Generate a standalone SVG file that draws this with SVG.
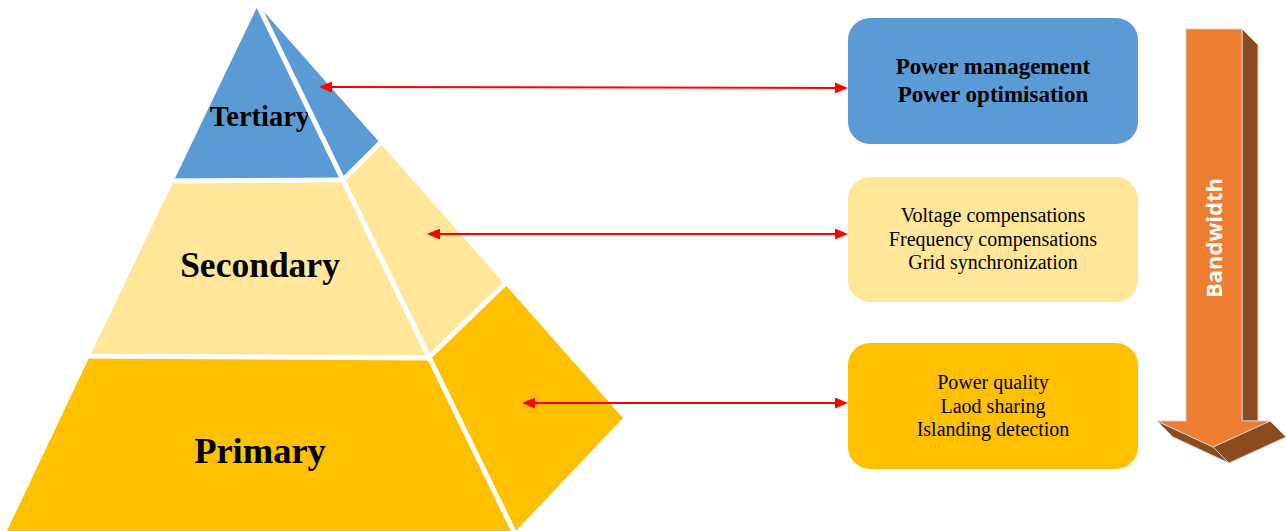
<svg xmlns="http://www.w3.org/2000/svg" width="1286" height="531" viewBox="0 0 1286 531">
  <style>
    .blue { fill: #5B9BD5; }
    .light { fill: #FFE699; }
    .gold { fill: #FFC000; }
    .cut { stroke: #FFFFFF; stroke-width: 5; fill: none; stroke-linecap: butt; }
    .tier { font-family: "Liberation Serif", "Times New Roman", serif; font-weight: bold; fill: #000; text-anchor: middle; }
    .boxb { font-family: "Liberation Serif", "Times New Roman", serif; font-weight: bold; font-size: 23px; fill: #000; text-anchor: middle; }
    .boxr { font-family: "Liberation Serif", "Times New Roman", serif; font-size: 20px; fill: #000; text-anchor: middle; }
    .link { stroke: #FF0000; stroke-width: 2; fill: none; marker-start: url(#head); marker-end: url(#head); }
    .front { fill: #ED7D31; stroke: #D0D0D0; stroke-width: 1; }
    .side { fill: #8B4B1E; stroke: #D0D0D0; stroke-width: 1; }
  </style>
  <defs>
    <marker id="head" viewBox="0 0 13 11" markerWidth="13" markerHeight="11" markerUnits="userSpaceOnUse" refX="5" refY="5.5" orient="auto-start-reverse">
      <path d="M0,0 L13,5.5 L0,11 z" fill="#FF0000"/>
    </marker>
  </defs>
  <rect width="1286" height="531" fill="#FFFFFF"/>

  <!-- Pyramid tiers: front face and right face of each level -->
  <g id="tier-tertiary">
    <polygon class="blue" points="258,5 343.2,180 174.2,180"/>
    <polygon class="blue" points="258,5 380,143 343.2,180"/>
    <text class="tier" x="260" y="126" font-size="28.5">Tertiary</text>
  </g>
  <g id="tier-secondary">
    <polygon class="light" points="174.2,180 343.2,180 429.3,357 89.4,357"/>
    <polygon class="light" points="343.2,180 380,143 504.6,284 429.3,357"/>
    <text class="tier" x="260" y="277" font-size="35.5">Secondary</text>
  </g>
  <g id="tier-primary">
    <polygon class="gold" points="89.4,357 429.3,357 514,533 6,533"/>
    <polygon class="gold" points="429.3,357 504.6,284 623,418 514,533"/>
    <text class="tier" x="260" y="463" font-size="36.5">Primary</text>
  </g>
  <!-- white seams between faces and levels -->
  <g id="seams">
    <line class="cut" x1="256" y1="1" x2="516" y2="536"/>
    <line class="cut" x1="160" y1="181" x2="344" y2="180"/>
    <line class="cut" x1="343.2" y1="180" x2="390" y2="133"/>
    <line class="cut" x1="70" y1="356" x2="430" y2="358"/>
    <line class="cut" x1="429.3" y1="357" x2="514" y2="275"/>
  </g>

  <!-- Function boxes -->
  <g id="box-tertiary">
    <rect class="blue" x="848" y="18" width="290" height="126" rx="22"/>
    <text class="boxb" x="993" y="74">Power management</text>
    <text class="boxb" x="993" y="102">Power optimisation</text>
  </g>
  <g id="box-secondary">
    <rect class="light" x="848" y="177" width="290" height="125" rx="22"/>
    <text class="boxr" x="993" y="222">Voltage compensations</text>
    <text class="boxr" x="993" y="246">Frequency compensations</text>
    <text class="boxr" x="993" y="269">Grid synchronization</text>
  </g>
  <g id="box-primary">
    <rect class="gold" x="848" y="343" width="290" height="126" rx="22"/>
    <text class="boxr" x="993" y="389">Power quality</text>
    <text class="boxr" x="993" y="413">Laod sharing</text>
    <text class="boxr" x="993" y="436">Islanding detection</text>
  </g>

  <!-- Double-headed links between levels and boxes -->
  <g id="connectors">
    <line class="link" x1="327" y1="87" x2="840" y2="88"/>
    <line class="link" x1="435" y1="234" x2="840" y2="234"/>
    <line class="link" x1="530" y1="403" x2="840" y2="403"/>
  </g>

  <!-- 3D bandwidth arrow -->
  <g id="bandwidth">
    <polygon class="side" points="1242,29 1258,45 1258,421 1242,421"/>
    <polygon class="side" points="1270,421 1286,437 1229,463 1213,447"/>
    <polygon class="side" points="1157,421 1173,437 1229,463 1213,447"/>
    <polygon class="front" points="1186,29 1242,29 1242,421 1270,421 1213,447 1157,421 1186,421"/>
    <text transform="translate(1222,238) rotate(-90)" text-anchor="middle" font-family="Open Sans, Lato, sans-serif" font-weight="bold" font-size="22" fill="#FFFFFF" textLength="120">Bandwidth</text>
  </g>
</svg>
